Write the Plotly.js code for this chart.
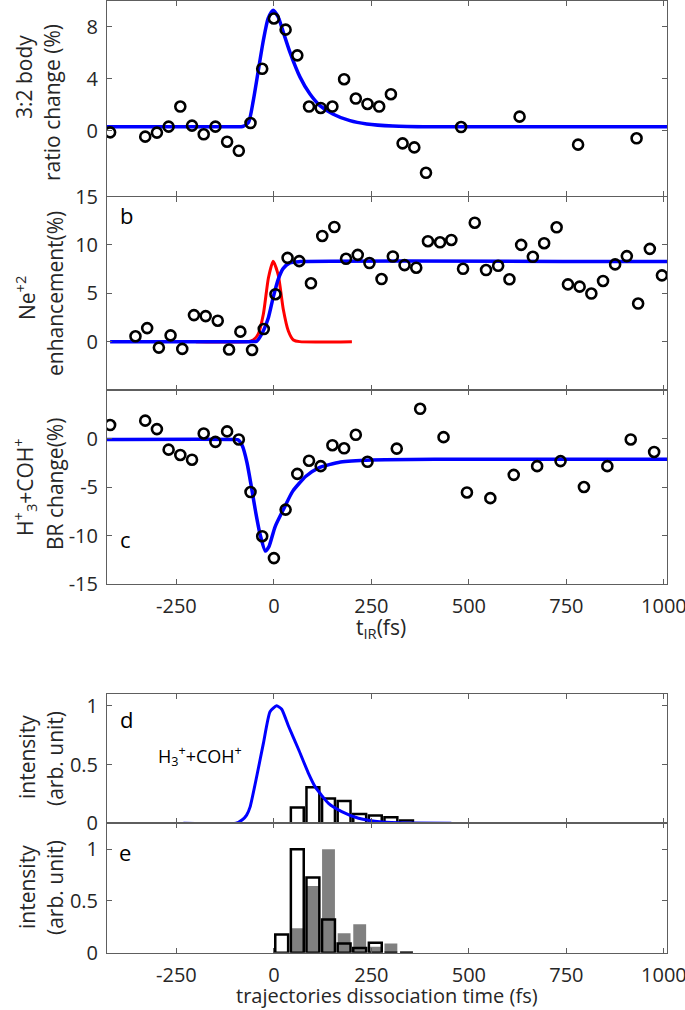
<!DOCTYPE html>
<html>
<head>
<meta charset="utf-8">
<script src="https://cdn.plot.ly/plotly-3.0.1.min.js"></script>
<style>html,body{margin:0;padding:0;background:#fff;}#chart{width:685px;height:1010px;}</style>
</head>
<body>
<div id="chart"></div>
<script>
// ---------- data ----------
// panel a: 3:2 body ratio change (%)
const aX = [-420,-330,-300,-270,-240,-210,-180,-150,-120,-90,-60,-30,0,30,60,90,120,150,180,210,240,270,300,330,360,390,480,630,780,930];
const aY = [-0.13,-0.46,-0.15,0.31,1.86,0.39,-0.28,0.31,-0.85,-1.55,0.59,4.77,8.65,7.79,5.81,1.86,1.75,1.86,3.97,2.48,2.06,1.86,2.81,-0.98,-1.29,-3.25,0.28,1.08,-1.08,-0.59];
const aFitX = [-428,-100,-80,-65,-53,-40,-27,-15,-2,11,24,41,67,92,118,151,195,238,305,400,1008];
const aFitY = [0.3,0.3,0.32,0.64,2.3,4.64,6.97,8.64,9.29,8.77,7.6,6.06,4.13,2.84,1.93,1.29,0.77,0.52,0.36,0.3,0.3];

// panel b: Ne+2 enhancement (%)
const bX = [-355,-325,-295,-265,-235,-205,-175,-144,-115,-86,-56,-26,4,35,65,95,124,155,185,215,245,276,305,335,365,395,426,455,485,515,544,575,604,634,664,693,725,754,784,814,844,875,905,934,964,995];
const bY = [0.55,1.40,-0.62,0.65,-0.75,2.74,2.64,2.16,-0.82,1.03,-0.86,1.30,4.90,8.66,8.32,6.03,10.92,11.85,8.56,8.97,8.12,6.47,8.80,7.91,7.64,10.38,10.27,10.51,7.53,12.29,7.40,7.84,6.44,10.0,8.77,10.17,11.82,5.92,5.68,4.97,6.27,7.98,8.84,3.94,9.59,6.85];
const bFitX = [-420,-60,-44,-27,-14,-2,11,24,41,67,1008];
const bFitY = [0,0,0.05,1.13,2.5,4.55,6.44,7.57,8.15,8.27,8.27];
const pulseX = [-200,-66,-53,-40,-27,-14,-2,11,24,37,50,66,200];
const pulseY = [0,0,0.17,0.8,2.85,6.6,8.3,6.9,3.35,1.1,0.17,0,0];

// panel c: H3+ + COH+ BR change (%)
const cX = [-420,-330,-300,-270,-240,-210,-180,-150,-120,-90,-60,-30,0,30,60,90,120,150,180,210,240,315,375,435,495,555,615,675,735,795,855,915,975];
const cY = [1.39,1.84,0.97,-1.15,-1.70,-2.19,0.52,-0.35,0.73,-0.10,-5.52,-10.07,-12.33,-7.33,-3.65,-2.29,-2.85,-0.69,-1.01,0.38,-2.40,-1.04,3.06,0.14,-5.56,-6.15,-3.75,-2.85,-2.33,-5.0,-2.85,-0.10,-1.39];
const cFitX = [-428,-100,-92,-81,-69,-58,-47,-36,-22,-13,3,26,48,82,115,171,250,418,1008];
const cFitY = [-0.1,-0.1,-0.14,-0.76,-2.5,-4.93,-7.53,-9.79,-11.6,-11.18,-9.1,-7.19,-5.45,-3.89,-3.02,-2.43,-2.22,-2.15,-2.15];

// panel d: intensity (arb. unit)
const dFitX = [-232,-97,-81,-70,-61,-44,-27,-10,7,20,37,63,88,106,140,174,217,277,350,455];
const dFitY = [0,0,0.03,0.07,0.14,0.4,0.68,0.95,1.0,0.97,0.83,0.63,0.43,0.31,0.17,0.1,0.043,0.011,0.003,0];
const histX = [20,60,100,140,180,220,260,300,340];
const dHist = [0,0.134,0.306,0.211,0.19,0.08,0.066,0.051,0.023];

// panel e
const eHistOpen = [0.177,1.0,0.726,0.32,0.09,0.045,0.097,0,0];
const eHistGray = [0,0.235,0.645,1.0,0.187,0.274,0.058,0.09,0.012];

const xTicks = [-250,0,250,500,750,1000];
const xTickText = ['-250','0','250','500','750','1000'];

// ---------- layout helpers ----------
const W = 685, H = 1010, L = 107, R = 18;
const PW = W - L - R;
const px = v => (v - L) / PW;
const py = v => 1 - v / H;
const FONT = 'Open Sans, Noto Sans, sans-serif';
const TXT = '#262626';
const AX = '#5e5e5e';
const XR = [-428, 1008];

function xax(anchor, labels) {
  return {
    anchor: anchor, domain: [0, 1], range: XR, tickvals: xTicks, ticktext: xTickText,
    showticklabels: labels, ticks: 'inside', ticklen: 5, tickwidth: 1, tickcolor: AX,
    showline: true, linecolor: AX, linewidth: 1, mirror: 'ticks', showgrid: false, zeroline: false,
    tickfont: {family: FONT, size: 20, color: TXT}, ticklabelstandoff: 4,
    ticklabeloverflow: 'allow', automargin: false
  };
}
function yax(anchor, dom, range, tv, tt) {
  return {
    anchor: anchor, domain: dom, range: range, tickvals: tv, ticktext: tt,
    ticks: 'inside', ticklen: 5, tickwidth: 1, tickcolor: AX,
    showline: true, linecolor: AX, linewidth: 1, mirror: 'ticks', showgrid: false, zeroline: false,
    tickfont: {family: FONT, size: 20, color: TXT}, ticklabelstandoff: 4,
    ticklabeloverflow: 'allow', automargin: false
  };
}

const circ = {symbol: 'circle-open', size: 10, color: '#000', line: {width: 2.6, color: '#000'}};
const blue = '#0000ff';

const traces = [
  {x: aFitX, y: aFitY, xaxis: 'x', yaxis: 'y', mode: 'lines', line: {color: blue, width: 3.5, shape: 'spline', smoothing: 0.6}},
  {x: aX, y: aY, xaxis: 'x', yaxis: 'y', mode: 'markers', marker: circ},

  {x: pulseX, y: pulseY, xaxis: 'x2', yaxis: 'y2', mode: 'lines', line: {color: '#ff0000', width: 3, shape: 'spline', smoothing: 0.6}},
  {x: bFitX, y: bFitY, xaxis: 'x2', yaxis: 'y2', mode: 'lines', line: {color: blue, width: 3.5, shape: 'spline', smoothing: 0.6}},
  {x: bX, y: bY, xaxis: 'x2', yaxis: 'y2', mode: 'markers', marker: circ},

  {x: cFitX, y: cFitY, xaxis: 'x3', yaxis: 'y3', mode: 'lines', line: {color: blue, width: 3.5, shape: 'spline', smoothing: 0.6}},
  {x: cX, y: cY, xaxis: 'x3', yaxis: 'y3', mode: 'markers', marker: circ},

  {x: histX, y: dHist, xaxis: 'x4', yaxis: 'y4', type: 'bar', width: 33,
   marker: {color: 'rgba(255,255,255,0)', line: {color: '#000', width: 2.5}}},
  {x: dFitX, y: dFitY, xaxis: 'x4', yaxis: 'y4', mode: 'lines', line: {color: blue, width: 3, shape: 'spline', smoothing: 0.5}},

  {x: histX, y: eHistGray, xaxis: 'x5', yaxis: 'y5', type: 'bar', width: 33,
   marker: {color: '#808080', line: {width: 0}}},
  {x: histX, y: eHistOpen, xaxis: 'x5', yaxis: 'y5', type: 'bar', width: 33,
   marker: {color: 'rgba(255,255,255,0)', line: {color: '#000', width: 2.5}}}
];

function ann(text, x, y, opts) {
  return Object.assign({text: text, xref: 'paper', yref: 'paper', x: px(x), y: py(y),
    xanchor: 'center', yanchor: 'middle', showarrow: false,
    font: {family: FONT, size: 21, color: TXT}}, opts || {});
}
const rot = {textangle: -90};

const annotations = [
  ann('3:2 body', 24, 77, rot),
  ann('ratio change (%)', 52, 103, rot),
  ann('Ne<sup>+2</sup>', 25, 298, rot),
  ann('enhancement(%)', 55, 294, rot),
  ann('H<sup>+</sup><sub>3</sub>+COH<sup>+</sup>', 24, 487, rot),
  ann('BR change(%)', 55, 484, rot),
  ann('intensity', 27, 757, rot),
  ann('(arb. unit)', 55, 759, rot),
  ann('intensity', 27, 887, rot),
  ann('(arb. unit)', 55, 888, rot),
  ann('t<sub>IR</sub>(fs)', 381, 628),
  ann('trajectories dissociation time (fs)', 387, 1010, {yanchor: 'bottom', borderpad: 0, font: {family: FONT, size: 20, color: TXT}}),
  ann('b', 126, 215, {font: {family: FONT, size: 22, color: '#000'}}),
  ann('c', 125, 539, {font: {family: FONT, size: 22, color: '#000'}}),
  ann('d', 126, 719, {font: {family: FONT, size: 22, color: '#000'}}),
  ann('e', 125, 852, {font: {family: FONT, size: 22, color: '#000'}}),
  ann('H<sub>3</sub><sup>+</sup>+COH<sup>+</sup>', 156, 756, {xanchor: 'left', font: {family: FONT, size: 18, color: '#000'}})
];

const layout = {
  width: W, height: H, margin: {l: L, r: R, t: 0, b: 0},
  paper_bgcolor: '#fff', plot_bgcolor: 'rgba(0,0,0,0)',
  showlegend: false, barmode: 'overlay', font: {family: FONT, color: TXT},
  xaxis: xax('y', false),
  xaxis2: xax('y2', false),
  xaxis3: xax('y3', true),
  xaxis4: xax('y4', false),
  xaxis5: xax('y5', true),
  yaxis: yax('x', [py(195.5), py(1)], [-5, 10], [0, 4, 8], ['0', '4', '8']),
  yaxis2: yax('x2', [py(390), py(196.5)], [-5, 15], [0, 5, 10, 15], ['0', '5', '10', '15']),
  yaxis3: yax('x3', [py(584), py(390)], [-15, 5], [-15, -10, -5, 0], ['-15', '-10', '-5', '0']),
  yaxis4: yax('x4', [py(823.3), py(694)], [0, 1.1], [0, 0.5, 1], ['0', '0.5', '1']),
  yaxis5: yax('x5', [py(952.7), py(823.3)], [0, 1.25], [0, 0.5, 1], ['0', '0.5', '1']),
  annotations: annotations
};

Plotly.newPlot('chart', traces, layout, {displayModeBar: false, staticPlot: true});
</script>
</body>
</html>
